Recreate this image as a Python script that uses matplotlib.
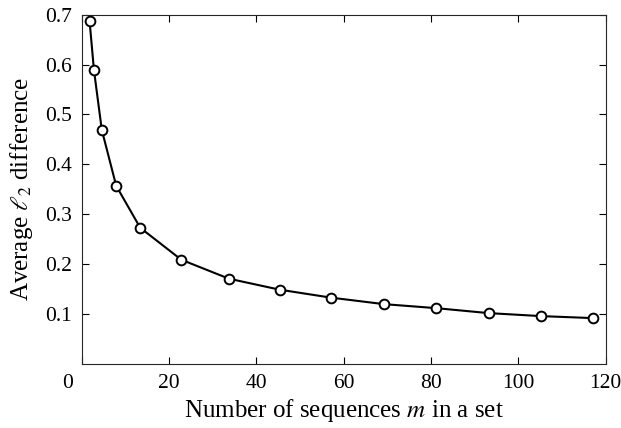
import matplotlib
matplotlib.use("Agg")
import matplotlib.pyplot as plt
import matplotlib.transforms as mtransforms

plt.rcParams['font.family'] = ['Liberation Serif', 'DejaVu Serif']
plt.rcParams['mathtext.fontset'] = 'stix'

# set size m vs average l2 difference
m_vals = [1.8, 2.8, 4.6, 7.9, 13.4, 22.8, 33.7, 45.3, 57.1, 69.2, 81.1, 93.2, 105.2, 117.1]
l2_diff = [0.687, 0.589, 0.469, 0.357, 0.273, 0.209, 0.171, 0.149, 0.133, 0.120, 0.112, 0.102, 0.096, 0.092]

x_ticks = [0, 20, 40, 60, 80, 100, 120]
y_ticks = [0.1, 0.2, 0.3, 0.4, 0.5, 0.6, 0.7]

fig = plt.figure(figsize=(6.21, 4.28), dpi=100)
ax = fig.add_axes([0.1316, 0.1495, 0.8437, 0.8162])

ax.plot(m_vals, l2_diff, color='black', lw=1.5, marker='o', ms=7,
        mfc='white', mec='black', mew=1.4, clip_on=False, zorder=3)

ax.set_xlim(0, 120)
ax.set_ylim(0, 0.7)
ax.set_xticks(x_ticks)
ax.set_xticklabels([str(t) for t in x_ticks])
ax.set_yticks(y_ticks)
ax.set_yticklabels([f"{t:.1f}" for t in y_ticks])

ax.tick_params(direction='in', length=5, width=0.8, top=True, right=True,
               labelsize=15.5, pad=7)
# MATLAB style: the "0" at the corner sits to the left of the axis
lbl0 = ax.get_xticklabels()[0]
lbl0.set_transform(lbl0.get_transform() + mtransforms.ScaledTranslation(-0.14, 0, fig.dpi_scale_trans))

for s in ax.spines.values():
    s.set_linewidth(0.8)
    s.set_color('#262626')

ax.set_xlabel("Number of sequences $m$ in a set", fontsize=18, labelpad=3)
ax.set_ylabel("Average $\\ell_2$ difference", fontsize=18, labelpad=7)

fig.savefig("out.png", dpi=100)
